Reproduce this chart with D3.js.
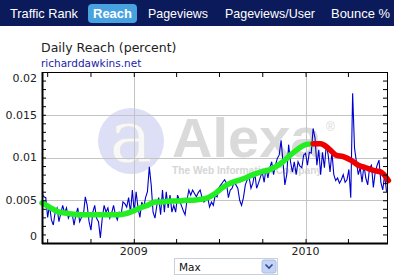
<!DOCTYPE html>
<html>
<head>
<meta charset="utf-8">
<script src="https://cdn.jsdelivr.net/npm/d3@7"></script>
<style>
  body { margin: 0; background: #fff; }
  svg { display: block; }
</style>
</head>
<body>
<div id="chart"></div>
<script>
// tabs in the header bar
const tabs = ['Traffic Rank', 'Reach', 'Pageviews', 'Pageviews/User', 'Bounce %']
const activeTab = 'Reach'

// daily reach (percent), one reading every 4 days from 2008-06-20
const dailyStart = new Date(2008, 5, 20)
const dailyReach = [
  0.0058, 0.0054, 0.0053, 0.0030, 0.0044, 0.0027, 0.0021, 0.0036, 0.0041, 0.0025,
  0.0035, 0.0044, 0.0035, 0.0041, 0.0029, 0.0034, 0.0035, 0.0021, 0.0033, 0.0041,
  0.0025, 0.0030, 0.0033, 0.0054, 0.0044, 0.0025, 0.0015, 0.0036, 0.0044, 0.0029,
  0.0025, 0.0006, 0.0029, 0.0044, 0.0036, 0.0041, 0.0029, 0.0035, 0.0044, 0.0033,
  0.0027, 0.0036, 0.0033, 0.0048, 0.0046, 0.0042, 0.0053, 0.0036, 0.0062, 0.0036,
  0.0060, 0.0041, 0.0030, 0.0048, 0.0041, 0.0053, 0.0060, 0.0089, 0.0068, 0.0036,
  0.0029, 0.0044, 0.0053, 0.0033, 0.0062, 0.0036, 0.0060, 0.0041, 0.0056, 0.0036,
  0.0044, 0.0036, 0.0056, 0.0050, 0.0044, 0.0038, 0.0033, 0.0050, 0.0062, 0.0056,
  0.0062, 0.0058, 0.0054, 0.0059, 0.0062, 0.0053, 0.0048, 0.0050, 0.0053, 0.0042,
  0.0048, 0.0044, 0.0056, 0.0054, 0.0065, 0.0068, 0.0071, 0.0074, 0.0070, 0.0053,
  0.0062, 0.0064, 0.0071, 0.0068, 0.0064, 0.0050, 0.0044, 0.0053, 0.0068, 0.0074,
  0.0077, 0.0064, 0.0070, 0.0082, 0.0064, 0.0070, 0.0077, 0.0083, 0.0071, 0.0088,
  0.0076, 0.0088, 0.0095, 0.0080, 0.0091, 0.0099, 0.0103, 0.0120, 0.0095, 0.0068,
  0.0080, 0.0115, 0.0095, 0.0083, 0.0095, 0.0080, 0.0095, 0.0090, 0.0088, 0.0103,
  0.0105, 0.0091, 0.0106, 0.0105, 0.0134, 0.0123, 0.0091, 0.0109, 0.0080, 0.0106,
  0.0088, 0.0115, 0.0103, 0.0083, 0.0106, 0.0080, 0.0073, 0.0076, 0.0070, 0.0074,
  0.0080, 0.0071, 0.0074, 0.0086, 0.0053, 0.0175, 0.0111, 0.0095, 0.0080, 0.0088,
  0.0071, 0.0091, 0.0076, 0.0068, 0.0088, 0.0091, 0.0065, 0.0083, 0.0091, 0.0097,
  0.0071, 0.0062, 0.0080, 0.0060
]

// smoothed trend, one reading every 16 days: green part, then red part
const trendGreen = [
  0.0047, 0.0042, 0.0037, 0.0035, 0.0034, 0.0033, 0.0033, 0.0033, 0.0033, 0.0033,
  0.0033, 0.0034, 0.0037, 0.0041, 0.0044, 0.0048, 0.0048, 0.0049, 0.0049, 0.0050,
  0.0050, 0.0051, 0.0053, 0.0058, 0.0065, 0.0070, 0.0073, 0.0076, 0.0080, 0.0083,
  0.0085, 0.0089, 0.0095, 0.0103, 0.0110, 0.0115, 0.0116
]
const trendRed = [
  0.0116, 0.0116, 0.0111, 0.0103, 0.0101, 0.0097, 0.0091, 0.0088, 0.0085, 0.0083,
  0.0073
]

const yTicks = [0, 0.005, 0.01, 0.015, 0.02]
const yTickLabels = ['0', '0.005', '0.01', '0.015', '0.02']

const width = 394
const height = 279
const plot = {left: 42, right: 387, top: 72, bottom: 243}

const svg = d3.select('#chart')
  .append('svg')
  .attr('width', width)
  .attr('height', height)

// header bar
svg.append('rect')
  .attr('width', width)
  .attr('height', 26)
  .attr('fill', '#0b1a5a')

const tabPos = [[10, 68], [93, 39], [148, 60], [225, 90], [331, 59]]
tabs.forEach((t, i) => {
  const [tx, tw] = tabPos[i]
  if (t === activeTab) {
    svg.append('rect')
      .attr('x', tx - 5)
      .attr('y', 4)
      .attr('width', tw + 10)
      .attr('height', 19)
      .attr('rx', 4)
      .attr('fill', '#47a2df')
  }
  svg.append('text')
    .attr('x', tx)
    .attr('y', 18)
    .attr('textLength', tw)
    .attr('lengthAdjust', 'spacingAndGlyphs')
    .style('font-family', 'Liberation Sans, Arial, sans-serif')
    .style('font-size', '13px')
    .style('font-weight', t === activeTab ? 'bold' : 'normal')
    .attr('fill', '#fff')
    .text(t)
})

// titles
svg.append('text')
  .attr('x', 41)
  .attr('y', 52)
  .style('font-family', 'DejaVu Sans, sans-serif')
  .style('font-size', '12.5px')
  .attr('fill', '#222')
  .text('Daily Reach (percent)')

svg.append('text')
  .attr('x', 41)
  .attr('y', 67)
  .style('font-family', 'DejaVu Sans, sans-serif')
  .style('font-size', '10.5px')
  .attr('fill', '#2222aa')
  .text('richarddawkins.net')

// scales
const x = d3.scaleTime()
  .domain([new Date(2008, 5, 20), new Date(2010, 5, 23)])
  .range([plot.left, plot.right])
const y = d3.scaleLinear()
  .domain([0, 0.02])
  .range([plot.bottom, plot.top])

// watermark
const wm = svg.append('g')
wm.append('circle')
  .attr('cx', 131)
  .attr('cy', 141)
  .attr('r', 33)
  .attr('fill', '#dcdff5')
wm.append('text')
  .attr('x', 131)
  .attr('y', 162)
  .attr('text-anchor', 'middle')
  .style('font-family', 'DejaVu Serif, serif')
  .style('font-size', '72px')
  .attr('fill', '#f8f8f8')
  .attr('stroke', '#e2e2e2')
  .attr('stroke-width', 0.8)
  .text('a')
wm.append('text')
  .attr('x', 172)
  .attr('y', 157)
  .style('font-family', 'Liberation Sans, Arial, sans-serif')
  .style('font-size', '56px')
  .style('font-weight', 'bold')
  .attr('fill', '#dadada')
  .text('Alexa')
wm.append('text')
  .attr('x', 326)
  .attr('y', 131)
  .style('font-family', 'Liberation Sans, Arial, sans-serif')
  .style('font-size', '12px')
  .attr('fill', '#dadada')
  .text('®')
wm.append('text')
  .attr('x', 172)
  .attr('y', 174)
  .attr('textLength', 150)
  .attr('lengthAdjust', 'spacingAndGlyphs')
  .style('font-family', 'Liberation Sans, Arial, sans-serif')
  .style('font-size', '11px')
  .style('font-weight', 'bold')
  .attr('fill', '#d6d6d6')
  .text('The Web Information Company')

// grid
const grid = svg.append('g')
  .attr('stroke', '#c4c4c4')
  .attr('stroke-width', 1)
grid.selectAll('line.h')
  .data(yTicks.slice(1, -1))
  .enter()
  .append('line')
  .attr('x1', plot.left)
  .attr('x2', plot.right)
  .attr('y1', d => Math.round(y(d)) + 0.5)
  .attr('y2', d => Math.round(y(d)) + 0.5)
grid.selectAll('line.v')
  .data(x.ticks(d3.timeYear))
  .enter()
  .append('line')
  .attr('x1', d => Math.round(x(d)) + 0.5)
  .attr('x2', d => Math.round(x(d)) + 0.5)
  .attr('y1', plot.top)
  .attr('y2', plot.bottom)

// series
const daily = dailyReach.map((v, i) => ({date: d3.timeDay.offset(dailyStart, i * 4), value: v}))
const green = trendGreen.map((v, i) => ({date: d3.timeDay.offset(dailyStart, i * 16), value: v}))
const redStart = (trendGreen.length - 1) * 16
const red = trendRed.map((v, i) => ({date: d3.timeDay.offset(dailyStart, redStart + i * 16), value: v}))

const line = d3.line()
  .x(d => x(d.date))
  .y(d => y(d.value))
const smooth = d3.line()
  .x(d => x(d.date))
  .y(d => y(d.value))
  .curve(d3.curveMonotoneX)

svg.append('path')
  .datum(daily)
  .attr('d', line)
  .attr('fill', 'none')
  .attr('stroke', '#0000cc')
  .attr('stroke-width', 1.1)

svg.append('path')
  .datum(green)
  .attr('d', smooth)
  .attr('fill', 'none')
  .attr('stroke', '#22ee22')
  .attr('stroke-width', 5.5)
  .attr('stroke-linecap', 'round')

svg.append('path')
  .datum(red)
  .attr('d', smooth)
  .attr('fill', 'none')
  .attr('stroke', '#ee0000')
  .attr('stroke-width', 5.5)
  .attr('stroke-linecap', 'round')

// frame and ticks
const minorY = d3.range(0, 21).map(d => d / 1000)
const quarters = x.ticks(d3.timeMonth.every(3))

const axisStyle = g => {
  g.select('.domain').remove()
  g.selectAll('.tick line').attr('stroke', '#000')
  g.selectAll('.tick text').remove()
}

svg.append('g')
  .attr('transform', `translate(${plot.left},0)`)
  .call(d3.axisLeft(y).tickValues(minorY).tickSize(-4))
  .call(axisStyle)
svg.append('g')
  .attr('transform', `translate(${plot.right},0)`)
  .call(d3.axisRight(y).tickValues(minorY).tickSize(-4))
  .call(axisStyle)
svg.append('g')
  .attr('transform', `translate(0,${plot.bottom})`)
  .call(d3.axisBottom(x).tickValues(quarters).tickSize(-4))
  .call(axisStyle)
svg.append('g')
  .attr('transform', `translate(0,${plot.top})`)
  .call(d3.axisTop(x).tickValues(quarters).tickSize(-5))
  .call(axisStyle)

svg.append('rect')
  .attr('x', plot.left + 0.5)
  .attr('y', plot.top + 0.5)
  .attr('width', plot.right - plot.left)
  .attr('height', plot.bottom - plot.top)
  .attr('fill', 'none')
  .attr('stroke', '#000')
svg.append('line')
  .attr('x1', plot.left + 0.5).attr('x2', plot.left + 0.5)
  .attr('y1', plot.top).attr('y2', plot.bottom + 1)
  .attr('stroke', '#000').attr('stroke-width', 2)
svg.append('line')
  .attr('x1', plot.left).attr('x2', plot.right + 1)
  .attr('y1', plot.bottom + 0.5).attr('y2', plot.bottom + 0.5)
  .attr('stroke', '#000').attr('stroke-width', 2)

// tick labels
svg.append('g')
  .selectAll('text')
  .data(yTicks)
  .enter()
  .append('text')
  .attr('x', 37)
  .attr('y', d => Math.min(Math.max(y(d), 78), 236))
  .attr('dy', '0.35em')
  .attr('text-anchor', 'end')
  .style('font-family', 'DejaVu Sans, sans-serif')
  .style('font-size', '11px')
  .attr('fill', '#222')
  .text((d, i) => yTickLabels[i])

svg.append('g')
  .selectAll('text')
  .data(x.ticks(d3.timeYear))
  .enter()
  .append('text')
  .attr('x', d => x(d))
  .attr('y', 255)
  .attr('text-anchor', 'middle')
  .style('font-family', 'DejaVu Sans, sans-serif')
  .style('font-size', '11px')
  .attr('fill', '#222')
  .text(d3.timeFormat('%Y'))

// range drop-down
const dd = svg.append('g')
dd.append('rect')
  .attr('x', 174.5).attr('y', 258.5)
  .attr('width', 103).attr('height', 16)
  .attr('fill', '#fff')
  .attr('stroke', '#c8d0dc')
dd.append('text')
  .attr('x', 179).attr('y', 271)
  .style('font-family', 'DejaVu Sans, sans-serif')
  .style('font-size', '10.5px')
  .attr('fill', '#111')
  .text('Max')
dd.append('rect')
  .attr('x', 262).attr('y', 260)
  .attr('width', 14).attr('height', 13)
  .attr('rx', 2)
  .attr('fill', '#c4d4f2')
  .attr('stroke', '#a8bde6')
dd.append('path')
  .attr('d', 'M265.5,264.5 L269,268 L272.5,264.5')
  .attr('fill', 'none')
  .attr('stroke', '#2a4a9a')
  .attr('stroke-width', 1.6)
</script>
</body>
</html>
